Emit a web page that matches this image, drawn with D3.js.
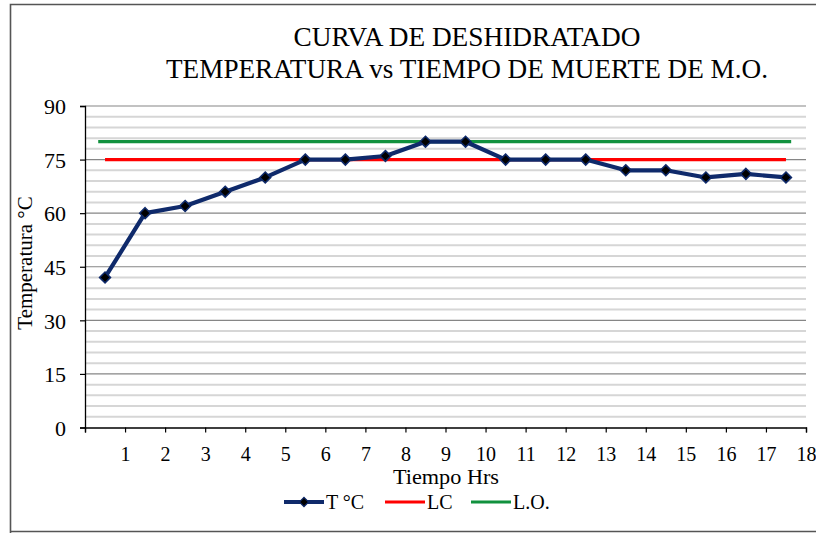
<!DOCTYPE html>
<html>
<head>
<meta charset="utf-8">
<script src="https://cdn.jsdelivr.net/npm/d3@7"></script>
<style>
  html, body { margin: 0; padding: 0; background: #fff; }
  svg { display: block; }
</style>
</head>
<body>
<svg id="chart" width="816" height="533" font-family="'Liberation Serif', 'DejaVu Serif', serif"></svg>
<script>
// Hourly temperature readings during dehydration
const hours = d3.range(1, 19);                       // 1 … 18
const tempC = [42, 60, 62, 66, 70, 75, 75, 76, 80, 80, 75, 75, 75, 72, 72, 70, 71, 70];
const lcValue = 75;                                  // LC reference
const loValue = 80;                                  // L.O. reference
const yTicks = [0, 15, 30, 45, 60, 75, 90];
const yMinor = d3.range(0, 91, 3);
const titleLines = ["CURVA DE DESHIDRATADO", "TEMPERATURA vs TIEMPO DE MUERTE DE M.O."];

const SERIF = "Liberation Serif";
const svg = d3.select("#chart");

// frame
svg.append("path")
  .attr("d", "M10.5,533 V4.5 H816 M10.5,531.5 H816")
  .attr("fill", "none").attr("stroke", "#555").attr("stroke-width", 1.6);

const x = d3.scaleLinear().domain([0, 18]).range([85, 806]);
const y = d3.scaleLinear().domain([0, 90]).range([427.5, 106]);

// minor grid
svg.append("g").selectAll("line")
  .data(yMinor.filter(v => v % 15 !== 0))
  .join("line")
  .attr("x1", x(0)).attr("x2", x(18))
  .attr("y1", d => y(d)).attr("y2", d => y(d))
  .attr("stroke", "#d6d6d6").attr("stroke-width", 2);

// major grid
svg.append("g").selectAll("line")
  .data(yTicks.filter(v => v > 0))
  .join("line")
  .attr("x1", x(0)).attr("x2", x(18))
  .attr("y1", d => y(d)).attr("y2", d => y(d))
  .attr("stroke", "#868686").attr("stroke-width", 1.2);

// y axis
const yAxis = d3.axisLeft(y).tickValues(yTicks).tickSize(5).tickPadding(14);
const gy = svg.append("g").attr("transform", `translate(${x(0)},0)`).call(yAxis)
  .attr("font-family", SERIF).attr("font-size", 22);
gy.select(".domain").attr("stroke", "#000").attr("stroke-width", 1.3);
gy.selectAll(".tick line").attr("stroke", "#000").attr("stroke-width", 1.2);
gy.selectAll(".tick text").attr("font-family", SERIF).attr("font-size", 22).attr("dy", "0.35em");

// x axis
const xAxis = d3.axisBottom(x).tickValues(d3.range(0, 19)).tickSize(5).tickPadding(14)
  .tickFormat(d => d === 0 ? "" : String(hours[d - 1]));
const gx = svg.append("g").attr("transform", `translate(0,${y(0)})`).call(xAxis)
  .attr("font-family", SERIF).attr("font-size", 20);
gx.select(".domain").attr("stroke", "#000").attr("stroke-width", 1.3);
gx.selectAll(".tick line").attr("stroke", "#000").attr("stroke-width", 1.2);
gx.selectAll(".tick text").attr("font-family", SERIF).attr("font-size", 20);

// reference lines
svg.append("line")
  .attr("x1", x(0.33)).attr("x2", x(17.63))
  .attr("y1", y(loValue)).attr("y2", y(loValue))
  .attr("stroke", "#11913e").attr("stroke-width", 3.2);
svg.append("line")
  .attr("x1", x(0.5)).attr("x2", x(17.5))
  .attr("y1", y(lcValue)).attr("y2", y(lcValue))
  .attr("stroke", "#ff0000").attr("stroke-width", 3.2);

// temperature series
const pts = tempC.map((v, i) => [x(i + 0.5), y(v)]);
svg.append("path")
  .attr("d", d3.line()(pts))
  .attr("fill", "none").attr("stroke", "#0f2a6b").attr("stroke-width", 4.2)
  .attr("stroke-linejoin", "round");
svg.append("g").selectAll("path")
  .data(pts)
  .join("path")
  .attr("transform", d => `translate(${d[0]},${d[1]})`)
  .attr("d", d3.symbol(d3.symbolDiamond2, 75)())
  .attr("fill", "#000").attr("stroke", "#0f2a6b").attr("stroke-width", 1.6);

// titles
svg.append("text").attr("x", 467).attr("y", 46).attr("text-anchor", "middle")
  .attr("font-family", SERIF).attr("font-size", 28)
  .attr("textLength", 347).attr("lengthAdjust", "spacingAndGlyphs")
  .text(titleLines[0]);
svg.append("text").attr("x", 467).attr("y", 78).attr("text-anchor", "middle")
  .attr("font-family", SERIF).attr("font-size", 28)
  .attr("textLength", 602).attr("lengthAdjust", "spacingAndGlyphs")
  .text(titleLines[1]);

// axis titles
svg.append("text")
  .attr("transform", "translate(32,263) rotate(-90)")
  .attr("text-anchor", "middle")
  .attr("font-family", SERIF).attr("font-size", 21)
  .text("Temperatura °C");
svg.append("text").attr("x", 446).attr("y", 483.5).attr("text-anchor", "middle")
  .attr("font-family", SERIF).attr("font-size", 20)
  .attr("textLength", 106).attr("lengthAdjust", "spacingAndGlyphs")
  .text("Tiempo Hrs");

// legend
const legend = [
  { label: "T °C", color: "#0f2a6b", x0: 284, marker: true },
  { label: "LC", color: "#ff0000", x0: 385 },
  { label: "L.O.", color: "#11913e", x0: 471 }
];
const ly = 502;
const lg = svg.append("g");
legend.forEach(d => {
  lg.append("line").attr("x1", d.x0).attr("x2", d.x0 + 40).attr("y1", ly).attr("y2", ly)
    .attr("stroke", d.color).attr("stroke-width", d.marker ? 4 : 3.2);
  if (d.marker) {
    lg.append("path").attr("transform", `translate(${d.x0 + 20},${ly})`)
      .attr("d", d3.symbol(d3.symbolDiamond2, 55)())
      .attr("fill", "#000").attr("stroke", d.color).attr("stroke-width", 1.2);
  }
  lg.append("text").attr("x", d.x0 + 42).attr("y", ly + 6.5)
    .attr("font-family", SERIF).attr("font-size", 20)
    .text(d.label);
});
</script>
</body>
</html>
